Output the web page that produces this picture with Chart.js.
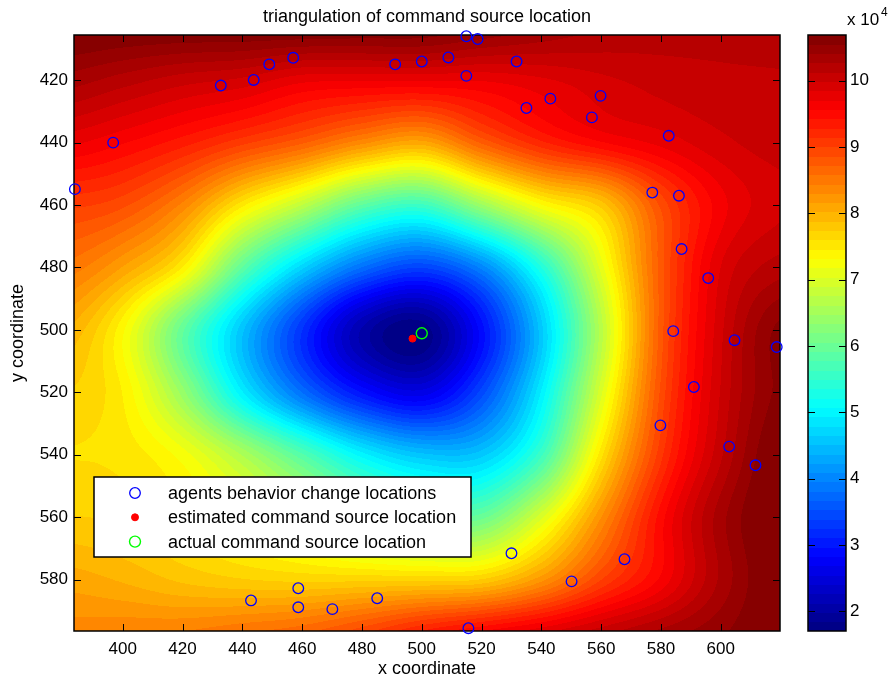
<!DOCTYPE html>
<html>
<head>
<title>triangulation of command source location</title>
<script src="https://cdn.jsdelivr.net/npm/chart.js"></script>
<style>
    body { margin: 0; background: #fff; }
</style>
</head>
<body>
<canvas id="chart" width="891" height="687"></canvas>
<script>
    const FONT = "'Liberation Sans', Arial, sans-serif";

    // axis limits (data units) and colour limits (x 10^4)
    const xRange = [383.7, 619.8];
    const yRange = [405.5, 596.5];
    const colorRange = [1.70, 10.69];
    const colorTicks = [2, 3, 4, 5, 6, 7, 8, 9, 10];

    // agents behavior change locations
    const agentX = [432.8, 443.8, 449.0, 457.0, 491.1, 500.0, 508.9, 514.9, 518.7, 514.9,
                    531.7, 535.0, 543.0, 559.8, 556.9, 582.6, 577.1, 586.0, 586.9, 595.8,
                    584.1, 604.6, 618.7, 591.0, 579.8, 602.8, 611.6, 396.8, 384.0,
                    530.0, 550.1, 567.8, 442.9, 458.7, 458.7, 470.1, 485.1, 515.6];
    const agentY = [421.7, 419.9, 414.9, 412.8, 414.9, 414.0, 412.7, 405.9, 406.8, 418.6,
                    414.0, 428.9, 425.9, 425.0, 431.9, 437.8, 456.0, 457.0, 474.1, 483.4,
                    500.4, 503.3, 505.5, 518.3, 530.6, 537.4, 543.4, 440.0, 454.9,
                    571.6, 580.6, 573.5, 586.7, 582.8, 588.9, 589.5, 586.0, 595.6];

    const estimatedX = [496.9];
    const estimatedY = [502.8];
    const actualX = [500.0];
    const actualY = [501.1];

    // sampled surface (x 10^4), one row per y value, one entry per x value
    const gridX = [380, 400, 420, 440, 460, 480, 500, 520, 540, 560, 580, 600, 620];
    const gridY = [400, 420, 440, 460, 480, 500, 520, 540, 560, 580, 600];
    const z400 = [10.8, 10.79, 10.8, 10.82, 10.85, 10.82, 10.8, 10.66, 10.48, 10.3, 10.2, 10.17, 10.15];
    const z420 = [10.35, 10.2, 10.05, 9.95, 9.75, 9.72, 9.72, 9.72, 9.82, 9.95, 10.05, 10.1, 10.12];
    const z440 = [9.75, 9.58, 9.35, 9.05, 8.75, 8.35, 8.1, 8.75, 9.25, 9.55, 9.75, 9.95, 10.05];
    const z460 = [9.05, 8.9, 8.4, 7.5, 6.75, 5.9, 5.6, 6.45, 7.3, 7.8, 8.9, 9.65, 9.95];
    const z480 = [8.55, 8.15, 7.45, 5.9, 4.7, 3.8, 3.4, 4.0, 5.35, 7.1, 8.8, 9.85, 10.2];
    const z500 = [8.05, 7.35, 5.95, 4.55, 3.25, 2.1, 1.75, 2.9, 4.6, 6.7, 8.8, 9.95, 10.6];
    const z520 = [7.75, 7.45, 6.4, 4.95, 3.8, 2.95, 2.6, 3.45, 4.95, 7.0, 8.9, 10.0, 10.6];
    const z540 = [7.6, 7.55, 7.25, 6.6, 5.8, 5.0, 4.55, 4.6, 5.6, 7.55, 9.1, 10.1, 10.75];
    const z560 = [7.75, 7.7, 7.5, 7.2, 6.8, 6.3, 6.0, 6.0, 7.0, 8.3, 9.5, 10.35, 10.8];
    const z580 = [8.1, 8.0, 7.85, 7.75, 7.7, 7.7, 7.7, 7.75, 8.25, 9.0, 9.6, 10.3, 10.75];
    const z600 = [8.4, 8.46, 8.52, 8.66, 8.8, 9.1, 9.5, 9.8, 10.0, 10.2, 10.4, 10.55, 10.75];
    const fieldRows = [z400, z420, z440, z460, z480, z500, z520, z540, z560, z580, z600];

    // matlab style jet, 64 steps
    function jet(t) {
        t = Math.min(1, Math.max(0, t));
        const q = (Math.min(63, Math.floor(t * 64)) + 0.5) / 64;
        const c = v => Math.round(255 * Math.min(1, Math.max(0, v)));
        return [c(1.5 - Math.abs(4 * q - 3)), c(1.5 - Math.abs(4 * q - 2)), c(1.5 - Math.abs(4 * q - 1))];
    }

    function cubic(p0, p1, p2, p3, t) {
        return p1 + 0.5 * t * (p2 - p0 + t * (2 * p0 - 5 * p1 + 4 * p2 - p3 + t * (3 * (p1 - p2) + p3 - p0)));
    }

    // smooth shading between the sampled cells
    function fieldAt(x, y) {
        const gx = (x - gridX[0]) / (gridX[1] - gridX[0]);
        const gy = (y - gridY[0]) / (gridY[1] - gridY[0]);
        const ix = Math.floor(gx), iy = Math.floor(gy);
        const fx = gx - ix, fy = gy - iy;
        const row = j => fieldRows[Math.min(gridY.length - 1, Math.max(0, j))];
        const at = (r, i) => r[Math.min(gridX.length - 1, Math.max(0, i))];
        const col = [];
        for (let j = -1; j <= 2; j++) {
            const r = row(iy + j);
            col.push(cubic(at(r, ix - 1), at(r, ix), at(r, ix + 1), at(r, ix + 2), fx));
        }
        return cubic(col[0], col[1], col[2], col[3], fy);
    }

    const TICK = 7;

    const heatmapPlugin = {
        id: 'heatmap',
        beforeDatasetsDraw(chart) {
            const {ctx, chartArea: a, scales} = chart;
            const xs = scales.x, ys = scales.y, cb = scales.cb;
            const left = Math.round(a.left), top = Math.round(a.top);
            const w = Math.round(a.right) - left, h = Math.round(a.bottom) - top;
            const img = ctx.createImageData(w, h);
            const span = colorRange[1] - colorRange[0];
            for (let j = 0; j < h; j++) {
                const yv = ys.getValueForPixel(top + j + 0.5);
                for (let i = 0; i < w; i++) {
                    const xv = xs.getValueForPixel(left + i + 0.5);
                    const [r, g, b] = jet((fieldAt(xv, yv) - colorRange[0]) / span);
                    const k = (j * w + i) * 4;
                    img.data[k] = r; img.data[k + 1] = g; img.data[k + 2] = b; img.data[k + 3] = 255;
                }
            }
            ctx.putImageData(img, left, top);

            ctx.save();
            ctx.strokeStyle = '#000';
            ctx.lineWidth = 1;
            ctx.beginPath();
            xs.ticks.forEach(t => {
                const px = Math.round(xs.getPixelForValue(t.value)) + 0.5;
                ctx.moveTo(px, a.bottom); ctx.lineTo(px, a.bottom - TICK);
                ctx.moveTo(px, a.top); ctx.lineTo(px, a.top + TICK);
            });
            ys.ticks.forEach(t => {
                const py = Math.round(ys.getPixelForValue(t.value)) + 0.5;
                ctx.moveTo(a.left, py); ctx.lineTo(a.left + TICK, py);
                ctx.moveTo(a.right, py); ctx.lineTo(a.right - TICK, py);
            });
            ctx.stroke();
            ctx.lineWidth = 1.5;
            ctx.strokeRect(a.left, a.top, a.right - a.left, a.bottom - a.top);

            // colorbar
            const x0 = a.right + 28, x1 = a.right + 66;
            for (let i = 0; i < 64; i++) {
                const v0 = colorRange[0] + span * i / 64, v1 = colorRange[0] + span * (i + 1) / 64;
                const p0 = cb.getPixelForValue(v0), p1 = cb.getPixelForValue(v1);
                const [r, g, b] = jet((i + 0.5) / 64);
                ctx.fillStyle = `rgb(${r},${g},${b})`;
                ctx.fillRect(x0, Math.floor(p1), x1 - x0, Math.ceil(p0) - Math.floor(p1));
            }
            ctx.lineWidth = 1;
            ctx.beginPath();
            colorTicks.forEach(v => {
                const py = Math.round(cb.getPixelForValue(v)) + 0.5;
                ctx.moveTo(x0, py); ctx.lineTo(x0 + TICK, py);
                ctx.moveTo(x1, py); ctx.lineTo(x1 - TICK, py);
            });
            ctx.stroke();
            ctx.lineWidth = 1.5;
            ctx.strokeRect(x0, cb.top, x1 - x0, cb.bottom - cb.top);

            ctx.fillStyle = '#000';
            ctx.textBaseline = 'alphabetic';
            ctx.textAlign = 'left';
            ctx.font = `17px ${FONT}`;
            ctx.fillText('x 10', x0 + 39, 25);
            ctx.font = `12px ${FONT}`;
            ctx.fillText('4', x0 + 73, 16);

            ctx.font = `18px ${FONT}`;
            ctx.textAlign = 'center';
            ctx.fillText('triangulation of command source location', (a.left + a.right) / 2, 22);
            ctx.restore();
        }
    };

    const legendPlugin = {
        id: 'boxLegend',
        afterDatasetsDraw(chart) {
            const {ctx} = chart;
            const bx = 94, by = 477, bw = 377, bh = 80;
            ctx.save();
            ctx.fillStyle = '#fff';
            ctx.fillRect(bx, by, bw, bh);
            ctx.strokeStyle = '#000';
            ctx.lineWidth = 1.5;
            ctx.strokeRect(bx, by, bw, bh);
            ctx.font = `18px ${FONT}`;
            ctx.textBaseline = 'middle';
            ctx.textAlign = 'left';
            chart.data.datasets.forEach((ds, i) => {
                const cy = by + 16 + i * 24.3;
                ctx.beginPath();
                ctx.arc(bx + 41, cy, ds.pointRadius, 0, Math.PI * 2);
                if (ds.backgroundColor !== 'transparent') {
                    ctx.fillStyle = ds.backgroundColor;
                    ctx.fill();
                }
                ctx.lineWidth = ds.borderWidth;
                ctx.strokeStyle = ds.borderColor;
                ctx.stroke();
                ctx.fillStyle = '#000';
                ctx.fillText(ds.label, bx + 74, cy + 1);
            });
            ctx.restore();
        }
    };

    const toPoints = (xs, ys) => xs.map((x, i) => ({x: x, y: ys[i]}));

    // keep vertical scales from padding the chart area for their labels
    function noPad(scale) {
        scale.paddingTop = 0;
        scale.paddingBottom = 0;
    }

    new Chart(document.getElementById('chart'), {
        type: 'scatter',
        data: {
            datasets: [{
                label: 'agents behavior change locations',
                data: toPoints(agentX, agentY),
                pointRadius: 5.3,
                borderWidth: 1.3,
                borderColor: '#0000ff',
                backgroundColor: 'transparent',
                clip: false
            }, {
                label: 'estimated command source location',
                data: toPoints(estimatedX, estimatedY),
                pointRadius: 3.5,
                borderWidth: 1,
                borderColor: '#ff0000',
                backgroundColor: '#ff0000',
                clip: false
            }, {
                label: 'actual command source location',
                data: toPoints(actualX, actualY),
                pointRadius: 5.5,
                borderWidth: 1.4,
                borderColor: '#00ff00',
                backgroundColor: 'transparent',
                clip: false
            }]
        },
        options: {
            responsive: false,
            animation: false,
            layout: { padding: { top: 35 } },
            plugins: {
                legend: { display: false },
                tooltip: { enabled: false },
                title: { display: false }
            },
            scales: {
                x: {
                    type: 'linear',
                    min: xRange[0], max: xRange[1],
                    grid: { display: false, drawTicks: false },
                    border: { display: false },
                    ticks: { stepSize: 20, includeBounds: false, autoSkip: false, maxRotation: 0,
                             padding: 8, color: '#000', font: { family: FONT, size: 17 } },
                    title: { display: true, text: 'x coordinate', color: '#000',
                             font: { family: FONT, size: 18 }, padding: { top: 0, bottom: 7 } },
                    afterFit(scale) { scale.height = 56; scale.paddingLeft = 0; scale.paddingRight = 0; }
                },
                y: {
                    type: 'linear',
                    reverse: true,
                    min: yRange[0], max: yRange[1],
                    grid: { display: false, drawTicks: false },
                    border: { display: false },
                    ticks: { stepSize: 20, includeBounds: false, autoSkip: false,
                             padding: 6, color: '#000', font: { family: FONT, size: 17 } },
                    title: { display: true, text: 'y coordinate', color: '#000',
                             font: { family: FONT, size: 18 }, padding: { top: 7, bottom: 0 } },
                    afterFit(scale) { scale.width = 74; noPad(scale); }
                },
                cb: {
                    type: 'linear',
                    position: 'right',
                    min: colorRange[0], max: colorRange[1],
                    grid: { display: false, drawTicks: false },
                    border: { display: false },
                    ticks: { stepSize: 1, includeBounds: false, autoSkip: false,
                             padding: 70, color: '#000', font: { family: FONT, size: 17 } },
                    afterFit(scale) { scale.width = 111; noPad(scale); }
                }
            }
        },
        plugins: [heatmapPlugin, legendPlugin]
    });
</script>
</body>
</html>
